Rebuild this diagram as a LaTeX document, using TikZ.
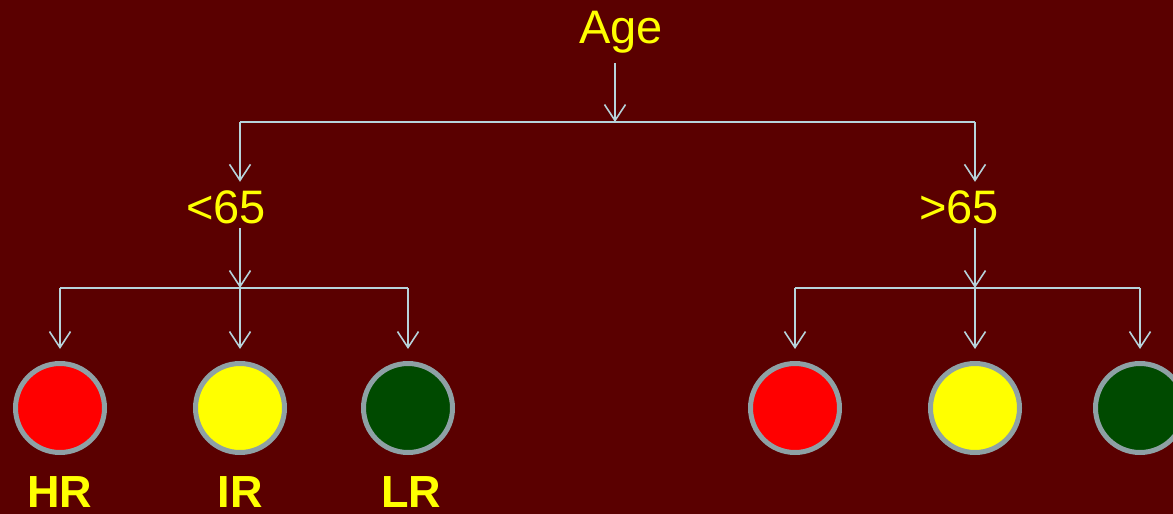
\documentclass[tikz,border=0pt]{standalone}
\usepackage{fontspec}
\setmainfont{Liberation Sans}
\usetikzlibrary{arrows.meta}
\definecolor{bg}{HTML}{5A0000}
\definecolor{ln}{HTML}{B6D3DB}
\definecolor{rim}{HTML}{8EA1A5}
\definecolor{ylw}{HTML}{FFFF00}
\definecolor{dgreen}{HTML}{004A00}
\begin{document}
\begin{tikzpicture}[x=1pt,y=-1pt,
  conn/.style={draw=ln, line width=1.8pt},
  arr/.style={conn, -{Straight Barb[length=16pt,width=21pt,line width=1.6pt]}},
  lbl/.style={text=ylw, font=\fontsize{47}{50}\selectfont, inner sep=0pt, anchor=base},
  risk/.style={text=ylw, font=\fontsize{45}{48}\selectfont\bfseries, inner sep=0pt, anchor=base},
  dot/.style={circle, draw=rim, line width=5pt, minimum size=89pt, inner sep=0pt}]
\fill[bg] (0,0) rectangle (1173,514);
\useasboundingbox (0,0) rectangle (1173,514);

\node[lbl, text height=34pt, text depth=20pt] (age) at (621,43) {Age};
\node[lbl, text height=41pt, text depth=5pt] (lt) at (226,223) {<65};
\node[lbl, text height=41pt, text depth=5pt] (gt) at (959,223) {>65};

\coordinate (top) at (615,122);
\coordinate (l1) at (240,122);
\coordinate (r1) at (975,122);
\coordinate (l2) at (240,288);
\coordinate (r2) at (975,288);

\node[dot, fill=red] (c1) at (60,408) {};
\node[dot, fill=ylw] (c2) at (240,408) {};
\node[dot, fill=dgreen] (c3) at (408,408) {};
\node[dot, fill=red] (c4) at (795,408) {};
\node[dot, fill=ylw] (c5) at (975,408) {};
\node[dot, fill=dgreen] (c6) at (1140,408) {};

\node[risk] (hr) at (60,507) {HR};
\node[risk] (ir) at (240,507) {IR};
\node[risk] (lr) at (411,507) {LR};

\draw[conn] (l1) -- (r1);
\draw[arr] (age.south -| top) -- (top);
\draw[arr] (l1) -- (lt.north -| l1);
\draw[arr] (r1) -- (gt.north -| r1);

\draw[conn] (l2 -| c1) -- (l2 -| c3);
\draw[arr] (lt.south -| l2) -- (l2);
\foreach \c in {c1,c2,c3} \draw[arr, shorten >=12pt] (l2 -| \c) -- (\c);

\draw[conn] (r2 -| c4) -- (r2 -| c6);
\draw[arr] (gt.south -| r2) -- (r2);
\foreach \c in {c4,c5,c6} \draw[arr, shorten >=12pt] (r2 -| \c) -- (\c);
\end{tikzpicture}
\end{document}
